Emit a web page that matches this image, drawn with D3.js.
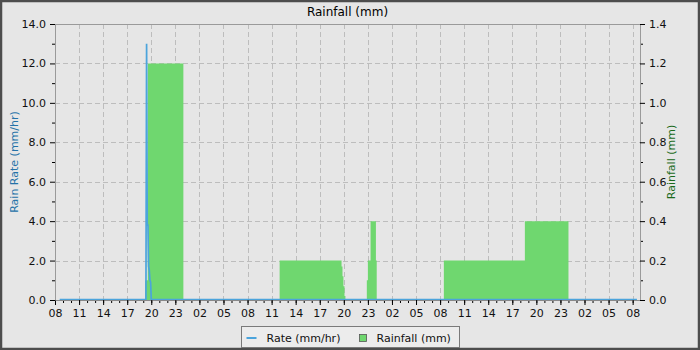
<!DOCTYPE html>
<html><head><meta charset="utf-8">
<script src="https://cdn.jsdelivr.net/npm/d3@7"></script>
<style>
html,body{margin:0;padding:0;background:#e6e6e6;}
svg{display:block;font-family:"DejaVu Sans",sans-serif;}
</style></head>
<body>
<svg id="c" width="700" height="350"></svg>
<script>
// ---- data ----
const startTime = "2024-05-01 08:00";
const endTime = "2024-05-04 08:55";
const rateTimes = ["2024-05-01 08:35","2024-05-01 19:20","2024-05-01 19:25","2024-05-01 19:30","2024-05-01 19:35","2024-05-01 19:40","2024-05-01 19:45","2024-05-01 19:50","2024-05-01 19:55","2024-05-01 20:00","2024-05-04 08:32"];
const rateValues = [0, 0, 13.0, 3.8, 3.8, 1.7, 1.5, 1.0, 0.9, 0, 0];
const rainTimes = ["2024-05-01 08:35","2024-05-01 19:14","2024-05-01 19:34","2024-05-02 00:00","2024-05-02 12:00","2024-05-02 19:43","2024-05-02 19:50","2024-05-02 19:57","2024-05-02 20:05","2024-05-02 20:12","2024-05-02 22:52","2024-05-02 23:00","2024-05-02 23:20","2024-05-03 00:00","2024-05-03 00:06","2024-05-03 08:28","2024-05-03 18:34","2024-05-04 00:00","2024-05-04 08:32"];
const rainValues = [0, 0.1, 1.2, 0, 0.2, 0.17, 0.12, 0.07, 0.02, 0, 0.1, 0.2, 0.4, 0.2, 0, 0.2, 0.4, 0, 0];
const leftTicks = [0, 2, 4, 6, 8, 10, 12, 14];
const rightTicks = [0, 0.2, 0.4, 0.6, 0.8, 1.0, 1.2, 1.4];
const title = "Rainfall (mm)";
const leftTitle = "Rain Rate (mm/hr)";
const rightTitle = "Rainfall (mm)";
const legendLabels = ["Rate (mm/hr)", "Rainfall (mm)"];

// ---- layout ----
const W = 700, H = 350;
const m = {left: 55, right: 60, top: 24, bottom: 50};
const pw = W - m.left - m.right, ph = H - m.top - m.bottom;
const parse = d3.timeParse("%Y-%m-%d %H:%M");
const t0 = parse(startTime), t1 = parse(endTime);
const rateColor = "#4ba4dc", rainColor = "#6fd76f";

const svg = d3.select("#c");
svg.append("rect").attr("x",1).attr("y",1).attr("width",W-2).attr("height",H-2)
  .attr("fill","#e6e6e6").attr("stroke","#4d4d4d").attr("stroke-width",2.5);

const x = d3.scaleTime().domain([t0, t1]).range([0, pw]);
const yL = d3.scaleLinear().domain([0, 14]).range([ph, 0]);
const yR = d3.scaleLinear().domain([0, 1.4]).range([ph, 0]);

const g = svg.append("g").attr("transform", `translate(${m.left},${m.top})`);

const majorX = d3.timeHour.range(t0, d3.timeMinute.offset(t1, 1), 3);
const minorX = d3.timeHour.range(t0, d3.timeMinute.offset(t1, 1), 1);

// grid
const grid = g.append("g").attr("stroke","#bdbdbd").attr("stroke-dasharray","5,3").attr("stroke-width",1);
majorX.slice(1).forEach(t => {
  const px = Math.round(x(t)) + 0.5;
  grid.append("line").attr("x1",px).attr("x2",px).attr("y1",0).attr("y2",ph);
});
leftTicks.slice(1, -1).forEach(v => {
  const py = Math.round(yL(v)) + 0.5;
  grid.append("line").attr("x1",0).attr("x2",pw).attr("y1",py).attr("y2",py);
});

// rainfall area
const rainData = rainTimes.map((t, i) => ({t: parse(t), v: rainValues[i]}));
g.append("path").datum(rainData)
  .attr("fill", rainColor)
  .attr("d", d3.area().curve(d3.curveStepAfter).x(d => x(d.t)).y0(yR(0)).y1(d => yR(d.v)));

// frame
g.append("rect").attr("x",0.5).attr("y",0.5).attr("width",pw).attr("height",ph)
  .attr("fill","none").attr("stroke","#9a9a9a");

// rate line
const rateData = rateTimes.map((t, i) => ({t: parse(t), v: rateValues[i]}));
g.append("path").datum(rateData)
  .attr("fill","none").attr("stroke", rateColor).attr("stroke-width",1.7)
  .attr("d", d3.line().x(d => x(d.t)).y(d => Math.min(yL(d.v), ph - 0.5)));

// axes
const axStyle = sel => {
  sel.selectAll("path").attr("stroke","#000").attr("stroke-width",1);
  sel.selectAll("line").attr("stroke","#000");
  sel.selectAll("text").attr("fill","#111").style("font-size","11px").style("font-family","DejaVu Sans, sans-serif");
};
const xMinor = g.append("g").attr("transform",`translate(0,${ph})`)
  .call(d3.axisBottom(x).tickValues(minorX).tickSize(3).tickFormat(""));
xMinor.select("path").remove();
xMinor.selectAll("line").attr("stroke","#000");
const xAx = g.append("g").attr("transform",`translate(0,${ph})`)
  .call(d3.axisBottom(x).tickValues(majorX).tickSize(5).tickPadding(4).tickFormat(d3.timeFormat("%H")).tickSizeOuter(0));
axStyle(xAx);
xAx.select("path").attr("stroke","#888");

const lMinor = g.append("g").call(d3.axisLeft(yL).tickValues(d3.range(1, 14, 2)).tickSize(3).tickFormat(""));
lMinor.select("path").remove();
lMinor.selectAll("line").attr("stroke","#000");
const lAx = g.append("g").call(d3.axisLeft(yL).tickValues(leftTicks).tickSize(5).tickPadding(4).tickFormat(d3.format(".1f")).tickSizeOuter(0));
axStyle(lAx); lAx.select("path").attr("stroke","#9a9a9a");

const rMinor = g.append("g").attr("transform",`translate(${pw},0)`)
  .call(d3.axisRight(yR).tickValues(d3.range(0.1, 1.4, 0.2)).tickSize(3).tickFormat(""));
rMinor.select("path").remove();
rMinor.selectAll("line").attr("stroke","#000");
const rAx = g.append("g").attr("transform",`translate(${pw},0)`)
  .call(d3.axisRight(yR).tickValues(rightTicks).tickSize(5).tickPadding(4).tickFormat(d3.format(".1f")).tickSizeOuter(0));
axStyle(rAx); rAx.select("path").attr("stroke","#9a9a9a");

// titles
svg.append("text").attr("x", m.left + pw/2).attr("y", 16).attr("text-anchor","middle")
  .style("font-size","12px").attr("fill","#000").text(title);
svg.append("text").attr("transform",`translate(18,${m.top + ph/2}) rotate(-90)`)
  .attr("text-anchor","middle").style("font-size","11px").attr("fill","#2472a8").text(leftTitle);
svg.append("text").attr("transform",`translate(675,${m.top + ph/2}) rotate(-90)`)
  .attr("text-anchor","middle").style("font-size","11px").attr("fill","#1b6b1b").text(rightTitle);

// legend
const lg = svg.append("g").attr("transform","translate(241.5,326.5)");
lg.append("rect").attr("width",218).attr("height",21).attr("fill","#ececec").attr("stroke","#7a7a7a");
lg.append("line").attr("x1",5).attr("x2",15).attr("y1",11.5).attr("y2",11.5).attr("stroke",rateColor).attr("stroke-width",2);
lg.append("text").attr("x",25).attr("y",15).style("font-size","11px").attr("fill","#111").text(legendLabels[0]);
lg.append("rect").attr("x",118).attr("y",8).attr("width",7).attr("height",7).attr("fill",rainColor).attr("stroke","#555").attr("stroke-width",0.8);
lg.append("text").attr("x",135).attr("y",15).style("font-size","11px").attr("fill","#111").text(legendLabels[1]);
</script>
</body></html>
